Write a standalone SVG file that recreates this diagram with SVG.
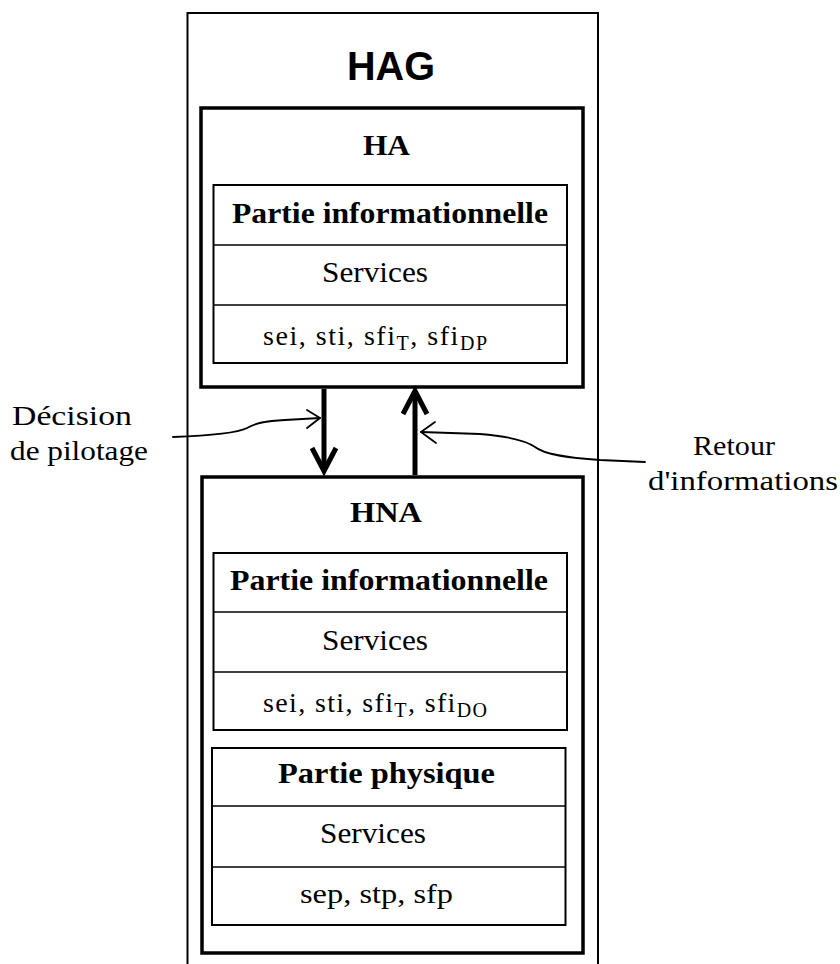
<svg xmlns="http://www.w3.org/2000/svg" width="840" height="964" viewBox="0 0 840 964">
<style>
.bg{fill:#fff}
.outer{fill:none;stroke:#000;stroke-width:2}
.box{fill:#fff;stroke:#000;stroke-width:3.5}
.tbl{fill:#fff;stroke:#000;stroke-width:2}
.div{stroke:#000;stroke-width:1.6}
.t{font-family:"Liberation Serif","Times New Roman",serif;fill:#000}
.b{font-weight:bold}
.big{font-family:"Liberation Sans",Arial,sans-serif;font-weight:bold;font-size:41px;fill:#000}
.sub{font-size:20px}
.thick{fill:none;stroke:#000;stroke-width:5;stroke-linecap:butt;stroke-linejoin:miter}
.thin{fill:none;stroke:#000;stroke-width:1.8;stroke-linecap:round;stroke-linejoin:round}
</style>
<rect class="bg" x="0" y="0" width="840" height="964"/>
<g id="HAG">
<path class="outer" d="M187.5,975 V13 H598 V975"/>
<text class="big" x="347" y="80" textLength="88" lengthAdjust="spacingAndGlyphs">HAG</text>
</g>
<g id="HA">
<rect class="box" x="201" y="108" width="382" height="279"/>
<text class="t b" x="363" y="155" font-size="30" textLength="47" lengthAdjust="spacingAndGlyphs">HA</text>
</g>
<g id="HA-table">
<rect class="tbl" x="213.5" y="185" width="353.5" height="178"/>
<line class="div" x1="213.5" y1="245" x2="567" y2="245"/>
<line class="div" x1="213.5" y1="305" x2="567" y2="305"/>
<text class="t b" x="232" y="223" font-size="29" textLength="316" lengthAdjust="spacingAndGlyphs">Partie informationnelle</text>
<text class="t" x="322" y="282" font-size="29" textLength="106" lengthAdjust="spacingAndGlyphs">Services</text>
<text class="t" x="263" y="345" font-size="28" textLength="224" lengthAdjust="spacing">sei, sti, sfi<tspan class="sub" dy="5">T</tspan><tspan dy="-5">, sfi</tspan><tspan class="sub" dy="5">DP</tspan></text>
</g>
<g id="HNA">
<rect class="box" x="202" y="477" width="381" height="476"/>
<text class="t b" x="350" y="522" font-size="30" textLength="72" lengthAdjust="spacingAndGlyphs">HNA</text>
</g>
<g id="HNA-table">
<rect class="tbl" x="213.5" y="553" width="353.5" height="177"/>
<line class="div" x1="213.5" y1="612" x2="567" y2="612"/>
<line class="div" x1="213.5" y1="672" x2="567" y2="672"/>
<text class="t b" x="230" y="590" font-size="29" textLength="318" lengthAdjust="spacingAndGlyphs">Partie informationnelle</text>
<text class="t" x="322" y="650" font-size="29" textLength="106" lengthAdjust="spacingAndGlyphs">Services</text>
<text class="t" x="263" y="712" font-size="28" textLength="224" lengthAdjust="spacing">sei, sti, sfi<tspan class="sub" dy="5">T</tspan><tspan dy="-5">, sfi</tspan><tspan class="sub" dy="5">DO</tspan></text>
</g>
<g id="PP-table">
<rect class="tbl" x="212" y="748" width="353.5" height="177"/>
<line class="div" x1="212" y1="806" x2="565.5" y2="806"/>
<line class="div" x1="212" y1="867" x2="565.5" y2="867"/>
<text class="t b" x="278" y="783" font-size="29" textLength="217" lengthAdjust="spacingAndGlyphs">Partie physique</text>
<text class="t" x="320" y="843" font-size="29" textLength="106" lengthAdjust="spacingAndGlyphs">Services</text>
<text class="t" x="300" y="903" font-size="28" textLength="153" lengthAdjust="spacingAndGlyphs">sep, stp, sfp</text>
</g>
<g id="label-decision">
<text class="t" x="12" y="425" font-size="27" textLength="120" lengthAdjust="spacingAndGlyphs">Décision</text>
<text class="t" x="10" y="460" font-size="27" textLength="138" lengthAdjust="spacingAndGlyphs">de pilotage</text>
</g>
<g id="label-retour">
<text class="t" x="693" y="455" font-size="27" textLength="82" lengthAdjust="spacingAndGlyphs">Retour</text>
<text class="t" x="648" y="490" font-size="27" textLength="190" lengthAdjust="spacingAndGlyphs">d'informations</text>
</g>
<g id="connectors">
<line class="thick" x1="324" y1="389" x2="324" y2="470"/>
<polyline class="thick" points="312,448 324,471 336,448"/>
<line class="thick" x1="415" y1="475" x2="415" y2="393"/>
<polyline class="thick" points="403,414 415,391 427,414"/>
<path class="thin" d="M173,437 C200,436 235,434 247,428 C256,423 265,421 285,420 L320,418"/>
<polyline class="thin" points="307,410 320,418 307,428"/>
<path class="thin" d="M645,462 L600,460 C570,458 545,455 535,447 C525,440 505,436 480,434 L421,432"/>
<polyline class="thin" points="435,422 421,432 436,443"/>
</g>
</svg>
